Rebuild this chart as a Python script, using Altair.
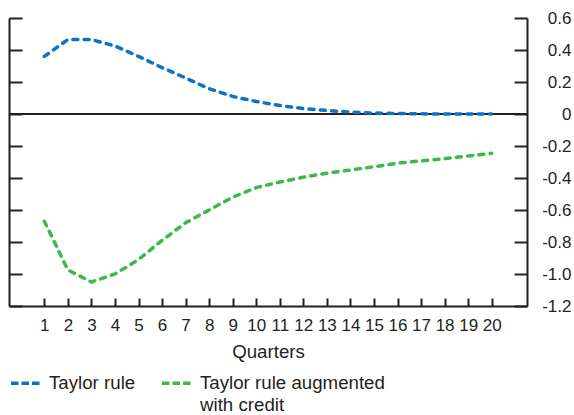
import altair as alt
import pandas as pd

quarters = list(range(1, 21))
taylor = [0.36, 0.465, 0.465, 0.425, 0.36, 0.29, 0.225, 0.158, 0.11, 0.078,
          0.053, 0.034, 0.022, 0.012, 0.006, 0.003, 0.001, 0.0, 0.0, 0.0]
credit = [-0.67, -0.975, -1.05, -1.0, -0.91, -0.79, -0.68, -0.60, -0.52, -0.46,
          -0.425, -0.395, -0.37, -0.35, -0.33, -0.307, -0.293, -0.279, -0.262, -0.246]
series_names = ["Taylor rule", "Taylor rule augmented with credit"]
legend_lines = [["Taylor rule"], ["Taylor rule augmented", "with credit"]]
series_colors = ["#0b72c6", "#3cb94a"]
y_ticks = [0.6, 0.4, 0.2, 0.0, -0.2, -0.4, -0.6, -0.8, -1.0, -1.2]
zero_level = [0.0]

rows = []
for name, vals in zip(series_names, [taylor, credit]):
    for q, v in zip(quarters, vals):
        rows.append({"quarter": q, "value": v, "series": name})
df = pd.DataFrame(rows)
zero_df = pd.DataFrame({"value": zero_level})

W, H = 518, 288
INK = "#231f20"
FS = 17
FS_BIG = 18.7
PAD = "\u00a0"

xs = alt.Scale(domain=[-0.5, 21.5], nice=False, zero=False)
ys = alt.Scale(domain=[-1.2, 0.6], nice=False, zero=False)

# legend labels: equal-height 2-line blocks so both entries line up with their symbols
label_expr = "datum.label"
for name, lines_ in reversed(list(zip(series_names, legend_lines))):
    arr = lines_ + [PAD] * (2 - len(lines_))
    arr_s = "[" + ",".join("'" + s + "'" for s in arr) + "]"
    label_expr = f"datum.label == '{name}' ? {arr_s} : ({label_expr})"

y_label_expr = "datum.value == 0 ? '0' : (datum.value < 0 ? '-' : '') + format(abs(datum.value), '.1f')"

# zero line + inner ticks on the left edge
zero_rule = alt.Chart(zero_df).mark_rule(color=INK, strokeWidth=2).encode(
    y=alt.Y("value:Q", scale=ys,
            axis=alt.Axis(orient="right", offset=-W, values=y_ticks, labels=False,
                          ticks=True, tickSize=13, tickWidth=2, tickColor=INK,
                          domain=True, domainWidth=2, domainColor=INK, grid=False, title=None)),
)

# right edge inner ticks + bottom inner ticks (invisible carrier marks)
edge = alt.Chart(df).mark_point(opacity=0).encode(
    x=alt.X("quarter:Q", scale=xs,
            axis=alt.Axis(orient="top", offset=-H, values=quarters, labels=False,
                          ticks=True, tickSize=8, tickWidth=2, tickColor=INK,
                          domain=True, domainWidth=2, domainColor=INK, grid=False, title=None)),
    y=alt.Y("value:Q", scale=ys,
            axis=alt.Axis(orient="left", offset=-W, values=y_ticks, labels=False,
                          ticks=True, tickSize=13, tickWidth=2, tickColor=INK,
                          domain=True, domainWidth=2, domainColor=INK, grid=False, title=None)),
)

lines = alt.Chart(df).mark_line(
    strokeWidth=3.5, strokeDash=[5, 6.3], strokeCap="round"
).encode(
    x=alt.X("quarter:Q", scale=xs,
            axis=alt.Axis(orient="bottom", values=quarters, ticks=False, domain=False,
                          labelPadding=11, labelFontSize=FS, labelColor=INK,
                          labelOverlap=False, labelFlush=False, grid=False,
                          title="Quarters", titleFontSize=FS_BIG, titleFontWeight="normal",
                          titleColor=INK, titlePadding=9)),
    y=alt.Y("value:Q", scale=ys,
            axis=alt.Axis(orient="right", values=y_ticks, ticks=False, domain=False,
                          labelExpr=y_label_expr, labelAlign="right", labelPadding=44,
                          labelFontSize=FS, labelColor=INK, labelOverlap=False,
                          labelFlush=False, grid=False, title=None)),
    color=alt.Color("series:N",
                    scale=alt.Scale(domain=series_names, range=series_colors),
                    sort=series_names,
                    legend=alt.Legend(orient="none", legendX=0, legendY=348,
                                      direction="horizontal", columns=2, title=None,
                                      symbolType="stroke", symbolSize=900,
                                      symbolStrokeWidth=3.5, symbolDash=[7.5, 3],
                                      labelFontSize=FS_BIG, labelColor=INK, labelOffset=6,
                                      labelLimit=400, columnPadding=19, padding=0,
                                      labelExpr=label_expr)),
)

chart = alt.layer(zero_rule, edge, lines).resolve_axis(
    x="independent", y="independent"
).properties(
    width=W, height=H, autosize="none",
    padding={"left": 9, "top": 18, "right": 47, "bottom": 109},
).configure(
    font="Liberation Sans",
    style={"guide-label": {"lineHeight": 22}},
).configure_view(stroke=None)

chart.save("out.html", embed_options={"renderer": "svg", "actions": False})
